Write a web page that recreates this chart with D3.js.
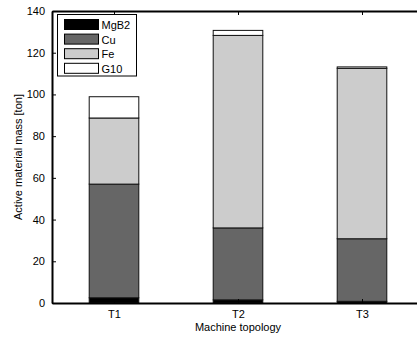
<!DOCTYPE html>
<html>
<head>
<meta charset="utf-8">
<script src="https://cdn.jsdelivr.net/npm/d3@7"></script>
<style>
	body { margin: 0; background: #fff; }
	text { font-family: "Liberation Sans", Arial, sans-serif; font-size: 11px; fill: #000; }
</style>
</head>
<body>
<div id="chart"></div>
<script>
var categories = ["T1", "T2", "T3"];
var materials = ["MgB2", "Cu", "Fe", "G10"];
var mgb2 = [2.5, 1.5, 0.8];
var cu = [54.5, 34.5, 30.0];
var fe = [31.7, 92.3, 81.7];
var g10 = [10.2, 2.4, 0.7];
var yTicks = [0, 20, 40, 60, 80, 100, 120, 140];
var colors = ["#000000", "#666666", "#cccccc", "#ffffff"];

var width = 417, height = 339;
var margin = {left: 52, right: 424, top: 11, bottom: 303};

var svg = d3.select("#chart").append("svg")
	.attr("width", width)
	.attr("height", height);

var x = d3.scaleLinear().domain([0.5, 3.5]).range([margin.left, margin.right]);
var y = d3.scaleLinear().domain([0, 140]).range([margin.bottom, margin.top]);

// build stacked rows
var rows = categories.map(function(c, i){
	return {cat: c, idx: i + 1, MgB2: mgb2[i], Cu: cu[i], Fe: fe[i], G10: g10[i]};
});
var stacked = d3.stack().keys(materials)(rows);

var barW = 0.4;
var layers = svg.selectAll(".layer")
	.data(stacked)
	.enter().append("g")
	.attr("class", "layer")
	.attr("fill", function(d, i){ return colors[i]; });

layers.selectAll("rect")
	.data(function(d){ return d; })
	.enter().append("rect")
	.attr("x", function(d){ return x(d.data.idx - barW / 2); })
	.attr("width", function(d){ return x(barW) - x(0); })
	.attr("y", function(d){ return y(d[1]); })
	.attr("height", function(d){ return y(d[0]) - y(d[1]); })
	.attr("stroke", "#111")
	.attr("stroke-width", 1);

// axes (ticks pointing inward like matlab)
var yAxis = d3.axisLeft(y).tickValues(yTicks).tickSizeInner(-4).tickSizeOuter(0).tickPadding(7);
var xAxis = d3.axisBottom(x).tickValues([1, 2, 3])
	.tickFormat(function(d){ return categories[d - 1]; })
	.tickSizeInner(-4).tickSizeOuter(0).tickPadding(7);

var gy = svg.append("g").attr("transform", "translate(" + margin.left + ",0)").call(yAxis);
var gx = svg.append("g").attr("transform", "translate(0," + margin.bottom + ")").call(xAxis);
svg.append("g").attr("transform", "translate(0," + margin.top + ")")
	.call(d3.axisTop(x).tickValues([1, 2, 3]).tickFormat("").tickSizeInner(-4).tickSizeOuter(0));

[gy, gx].forEach(function(g){
	g.selectAll("text").style("font-family", "Liberation Sans, Arial, sans-serif").style("font-size", "11px").attr("fill", "#000");
	g.selectAll(".tick line").attr("stroke", "#000");
});
svg.selectAll(".domain").attr("stroke", "#000").attr("stroke-width", 2);

svg.append("text")
	.attr("x", 238)
	.attr("y", 331)
	.attr("text-anchor", "middle")
	.text("Machine topology");

svg.append("text")
	.attr("transform", "translate(22," + ((margin.top + margin.bottom) / 2) + ") rotate(-90)")
	.attr("text-anchor", "middle")
	.text("Active material mass [ton]");

// legend
var legend = svg.append("g").attr("transform", "translate(57.5,14.5)");
legend.append("rect")
	.attr("width", 79).attr("height", 61.5)
	.attr("fill", "#fff").attr("stroke", "#000").attr("stroke-width", 1);
var item = legend.selectAll(".item")
	.data(materials)
	.enter().append("g")
	.attr("class", "item")
	.attr("transform", function(d, i){ return "translate(7," + (5 + i * 14.6) + ")"; });
item.append("rect")
	.attr("width", 34).attr("height", 10)
	.attr("fill", function(d, i){ return colors[i]; })
	.attr("stroke", "#000").attr("stroke-width", 1);
item.append("text")
	.attr("x", 37).attr("y", 9.5)
	.text(function(d){ return d; });
</script>
</body>
</html>
